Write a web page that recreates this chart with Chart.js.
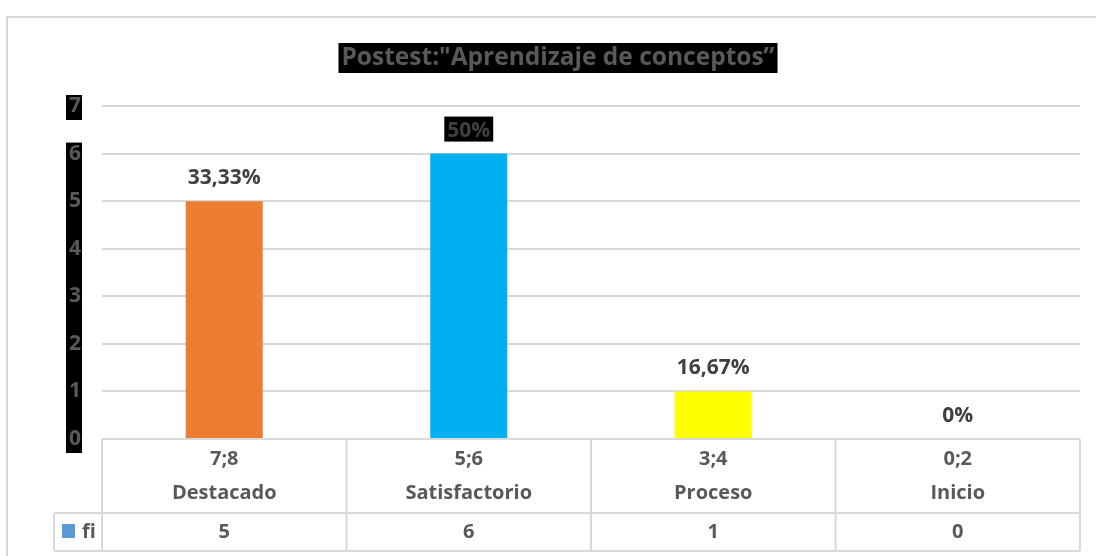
<!DOCTYPE html>
<html>
<head>
<meta charset="utf-8">
<script src="https://cdn.jsdelivr.net/npm/chart.js@4.4.1/dist/chart.umd.min.js"></script>
<style>
  body { margin: 0; background: #fff; }
  #wrap { width: 1096px; height: 556px; position: relative; }
</style>
</head>
<body>
<div id="wrap"><canvas id="chart"></canvas></div>
<script>
// data
const ranges = ["7;8", "5;6", "3;4", "0;2"];
const categories = ["Destacado", "Satisfactorio", "Proceso", "Inicio"];
const fi = [5, 6, 1, 0];
const pctLabels = ["33,33%", "50%", "16,67%", "0%"];
const seriesName = "fi";
const titleText = "Postest:\"Aprendizaje de conceptos\u201D";
const yMax = 7;

// styles
const barColors = ["#ED7D31", "#00B0F0", "#FFFF00", "#A5A5A5"];
const boxedLabel = [false, true, false, false];
const gridColor = "#d9d9d9";
const axisText = "#595959";
const labelText = "#404040";
const FONT = "'Open Sans', sans-serif";
const TITLE_SIZE = 24.5;

const decor = {
  id: "decor",
  beforeDraw(chart) {
    const ctx = chart.ctx;
    const y = chart.scales.y;
    ctx.save();
    ctx.fillStyle = "#fff";
    ctx.fillRect(0, 0, chart.width, chart.height);

    // outer frame (top + left only visible)
    ctx.strokeStyle = gridColor;
    ctx.lineWidth = 2;
    ctx.beginPath();
    ctx.moveTo(7, chart.height);
    ctx.lineTo(7, 17);
    ctx.lineTo(chart.width, 17);
    ctx.stroke();

    // black highlight behind y tick labels
    ctx.fillStyle = "#000";
    const bx = y.right - 36;
    const top7 = y.getPixelForValue(7);
    ctx.fillRect(bx, top7 - 11, 16, 25);
    const top6 = y.getPixelForValue(6);
    const bot0 = y.getPixelForValue(0);
    ctx.fillRect(bx, top6 - 11, 16, bot0 - top6 + 25);

    // black box behind title
    const tb = chart.titleBlock;
    ctx.font = "bold " + TITLE_SIZE + "px " + FONT;
    const tw = ctx.measureText(titleText).width;
    const cx = (tb.left + tb.right) / 2;
    ctx.fillRect(cx - tw / 2 - 3, 43, tw + 6, 30);
    ctx.restore();
  },
  afterDraw(chart) {
    const ctx = chart.ctx;
    const x = chart.scales.x;
    const area = chart.chartArea;
    const rowTop = area.bottom;
    const rowMid = 513;
    const rowBot = 551;
    const legLeft = 54;
    ctx.save();

    // data table lines
    ctx.strokeStyle = gridColor;
    ctx.lineWidth = 2;
    ctx.beginPath();
    ctx.moveTo(area.left, rowTop); ctx.lineTo(area.right, rowTop);
    ctx.moveTo(legLeft, rowMid); ctx.lineTo(area.right, rowMid);
    ctx.moveTo(legLeft, rowBot); ctx.lineTo(area.right, rowBot);
    ctx.moveTo(legLeft, rowMid); ctx.lineTo(legLeft, rowBot);
    const step = (area.right - area.left) / categories.length;
    for (let i = 0; i <= categories.length; i++) {
      const lx = area.left + step * i;
      ctx.moveTo(lx, rowTop); ctx.lineTo(lx, rowBot);
    }
    ctx.stroke();

    // fi row
    ctx.fillStyle = "#5B9BD5";
    ctx.fillRect(62, 524, 13, 14);
    ctx.font = "bold 20px " + FONT;
    ctx.fillStyle = axisText;
    ctx.textBaseline = "middle";
    ctx.textAlign = "left";
    ctx.fillText(seriesName, 82, 532);
    ctx.textAlign = "center";
    fi.forEach((v, i) => {
      ctx.fillText(String(v), x.getPixelForValue(i), 532);
    });

    // percentage labels above bars
    ctx.font = "bold 21px " + FONT;
    chart.getDatasetMeta(0).data.forEach((bar, i) => {
      const ly = bar.y - 24;
      if (boxedLabel[i]) {
        const w = ctx.measureText(pctLabels[i]).width;
        ctx.fillStyle = "#000";
        ctx.fillRect(bar.x - w / 2 - 3, ly - 13, w + 6, 25);
      }
      ctx.fillStyle = labelText;
      ctx.fillText(pctLabels[i], bar.x, ly + 1);
    });
    ctx.restore();
  }
};

new Chart(document.getElementById("chart"), {
  type: "bar",
  data: {
    labels: categories.map((c, i) => [ranges[i], c]),
    datasets: [{
      label: seriesName,
      data: fi,
      backgroundColor: barColors,
      barPercentage: 0.315,
      categoryPercentage: 1
    }]
  },
  options: {
    responsive: true,
    maintainAspectRatio: false,
    animation: false,
    layout: { padding: { left: 36, right: 16, top: 0, bottom: 0 } },
    plugins: {
      legend: { display: false },
      tooltip: { enabled: false },
      title: {
        display: true,
        text: titleText,
        color: axisText,
        font: { family: FONT, size: TITLE_SIZE, weight: "bold", lineHeight: 1.2 },
        padding: { top: 43.3, bottom: 33.3 }
      }
    },
    scales: {
      x: {
        grid: { display: false, drawTicks: false },
        border: { display: false },
        ticks: {
          color: axisText,
          padding: 3,
          font: { family: FONT, size: 20, weight: "bold", lineHeight: 1.72 }
        },
        afterFit(scale) { scale.height = 117; }
      },
      y: {
        min: 0,
        max: yMax,
        grid: { color: gridColor, lineWidth: 2, drawTicks: false },
        border: { display: false },
        ticks: {
          stepSize: 1,
          color: axisText,
          padding: 21,
          font: { family: FONT, size: 21, weight: "bold" }
        },
        afterFit(scale) { scale.width = 66; }
      }
    }
  },
  plugins: [decor]
});
</script>
</body>
</html>
